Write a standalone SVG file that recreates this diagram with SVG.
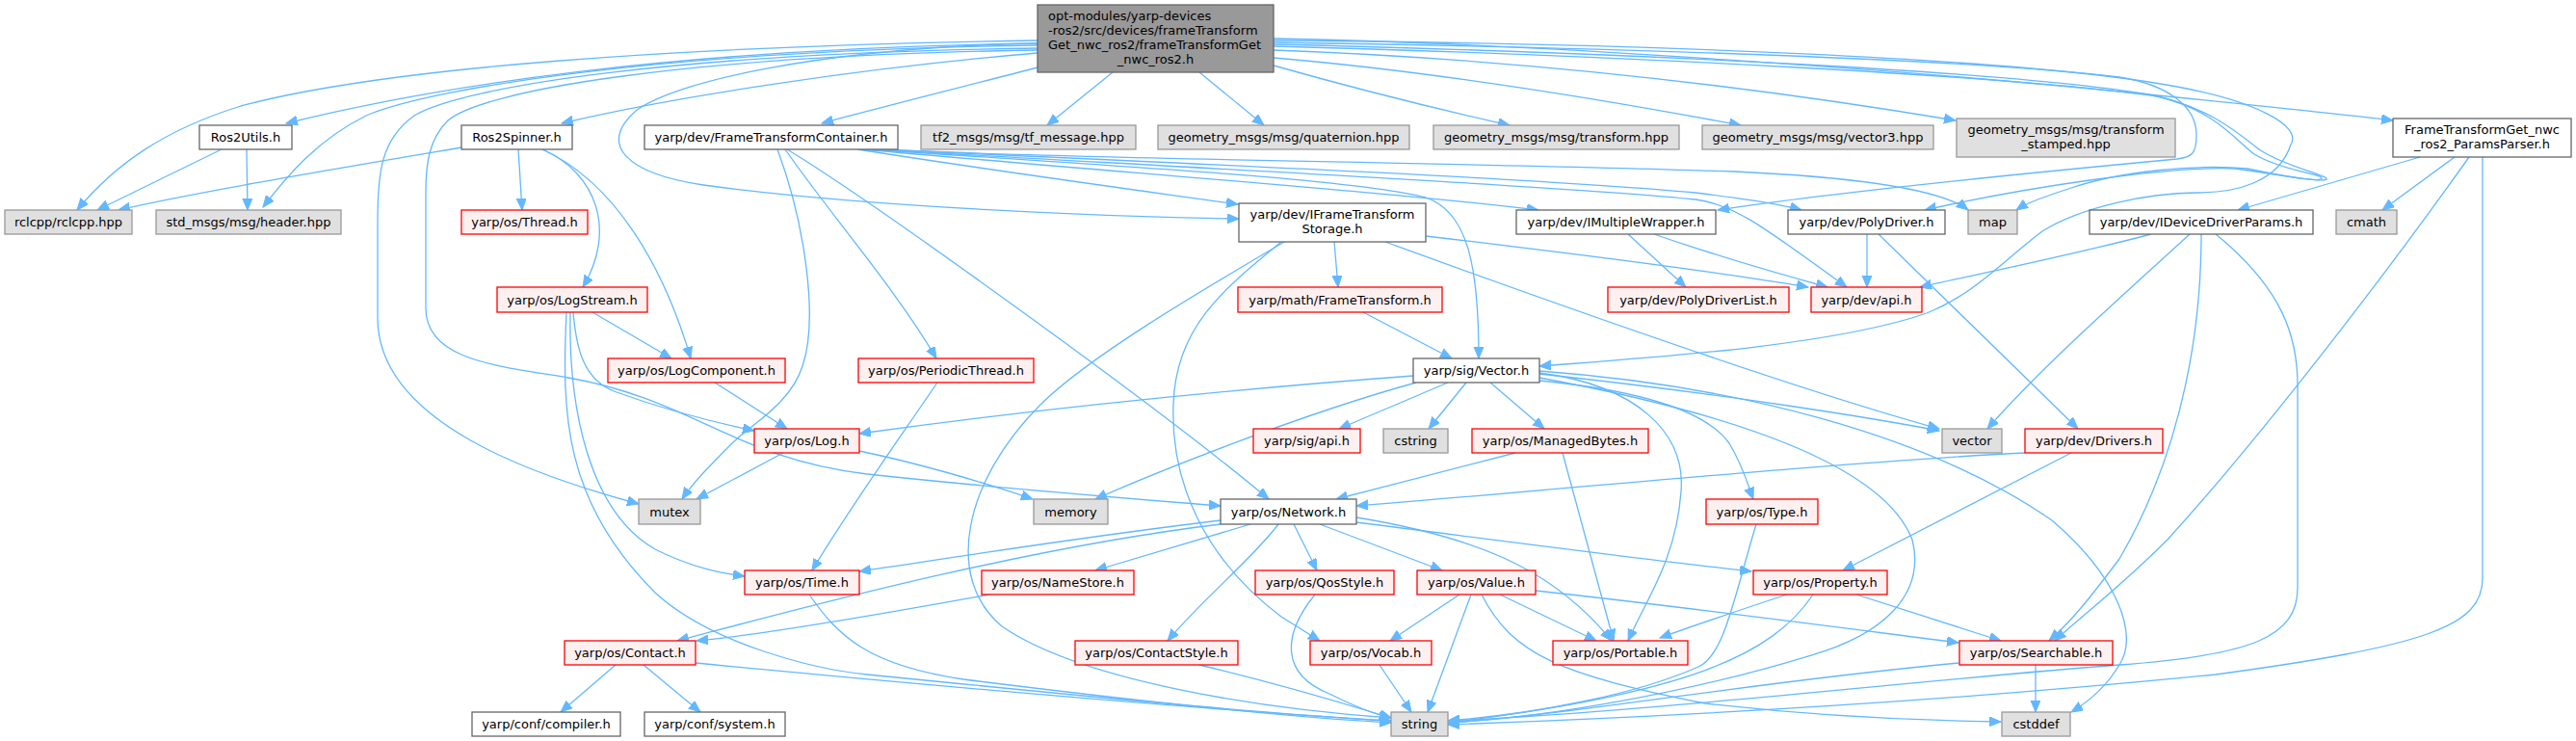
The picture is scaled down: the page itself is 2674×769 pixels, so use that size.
<svg xmlns="http://www.w3.org/2000/svg" width="2674" height="769" viewBox="0 0 2674 769">
<defs>
<marker id="a" markerUnits="userSpaceOnUse" markerWidth="13" markerHeight="11" refX="12" refY="5" orient="auto"><path d="M0,0 L12,5 L0,10 z" fill="#63b8ff" stroke="#63b8ff" stroke-width="1"/></marker>
<style>
.e{fill:none;stroke:#63b8ff;stroke-width:1.3;marker-end:url(#a)}
.w{fill:#ffffff;stroke:#666666;stroke-width:1.3}
.g{fill:#e0e0e0;stroke:#999999;stroke-width:1.3}
.r{fill:#fff0f0;stroke:#ff0000;stroke-width:1.3}
.m{fill:#999999;stroke:#666666;stroke-width:1.3}
text{font-family:"DejaVu Sans","Liberation Sans",sans-serif;font-size:13px;fill:#000000}
.c{text-anchor:middle}
</style>
</defs>
<rect width="2674" height="769" fill="#ffffff"/>
<g id="edges">
<path class="e" d="M1077,42 C700,48 400,70 250,110 C170,135 120,170 80,218"/>
<path class="e" d="M1077,45 C700,50 450,90 297,128"/>
<path class="e" d="M1077,47 C700,52 450,90 380,120 C330,145 300,180 273,215"/>
<path class="e" d="M1077,50 C700,55 480,90 430,120 C395,145 392,180 392,230 L392,330 C392,440 560,495 663,523"/>
<path class="e" d="M1077,52 C700,58 500,95 465,125 C445,145 442,170 442,200 L442,320 C442,375 520,380 590,392 C720,415 760,475 900,492 C1050,508 1180,518 1267,525"/>
<path class="e" d="M1077,55 C900,70 700,100 583,128"/>
<path class="e" d="M1077,45 C850,50 700,85 660,115 C620,150 650,180 730,192 C900,215 1150,225 1286,227"/>
<path class="e" d="M1077,70 C1000,90 900,115 853,128"/>
<path class="e" d="M1155,75 L1087,130"/>
<path class="e" d="M1245,75 L1312,130"/>
<path class="e" d="M1322,68 C1400,90 1500,115 1567,130"/>
<path class="e" d="M1322,60 C1500,75 1700,110 1807,130"/>
<path class="e" d="M1322,52 C1600,62 1850,95 2030,125"/>
<path class="e" d="M1322,40 C1600,45 2000,75 2200,95 C2300,105 2400,115 2484,125"/>
<path class="e" d="M1322,42 C1700,45 2100,60 2260,90 C2340,105 2390,130 2378,150 C2365,190 2320,200 2280,200 C2230,200 2160,215 2120,240 C2080,270 2050,305 2000,325 C1900,360 1700,372 1598,380"/>
<path class="e" d="M1322,44 C1700,50 2050,62 2200,80 C2250,88 2280,110 2280,140 C2280,160 2275,163 2260,165 C2100,180 1900,200 1783,218"/>
<path class="e" d="M1322,46 C1700,55 2100,75 2230,98 C2290,110 2320,135 2345,155 C2370,172 2410,180 2415,185 C2418,190 2380,185 2333,175 C2280,170 2200,178 2150,195 C2120,205 2105,210 2093,218"/>
<path class="e" d="M1322,48 C1700,58 2100,80 2240,100 C2300,115 2320,145 2340,160 C2370,178 2410,180 2410,185 C2410,190 2370,182 2320,175 C2250,172 2100,195 1998,218"/>
<path class="e" d="M230,155 L101,218"/>
<path class="e" d="M256,155 L257,218"/>
<path class="e" d="M479,153 C350,175 200,200 123,218"/>
<path class="e" d="M538,155 L542,218"/>
<path class="e" d="M563,155 C620,180 640,240 605,298"/>
<path class="e" d="M563,155 C640,190 690,280 717,372"/>
<path class="e" d="M615,324 L697,372"/>
<path class="e" d="M595,324 C598,360 605,395 640,407 C690,425 740,438 783,447"/>
<path class="e" d="M592,324 C590,420 610,530 680,570 C720,590 750,595 773,598"/>
<path class="e" d="M588,324 C583,430 585,520 680,615 C740,670 850,695 900,700 C1100,720 1300,740 1444,748"/>
<path class="e" d="M742,397 L817,445"/>
<path class="e" d="M807,155 C835,230 850,330 833,380 C820,420 780,440 760,460 C740,480 720,500 708,518"/>
<path class="e" d="M815,155 C860,220 930,300 972,372"/>
<path class="e" d="M817,155 C900,205 1200,420 1317,518"/>
<path class="e" d="M890,155 C1050,180 1200,200 1285,212"/>
<path class="e" d="M900,155 C1150,172 1400,185 1480,205 C1525,220 1535,280 1535,372"/>
<path class="e" d="M895,155 C1200,182 1450,200 1597,218"/>
<path class="e" d="M905,155 C1200,172 1650,195 1760,207 C1800,212 1830,235 1917,298"/>
<path class="e" d="M910,155 C1200,168 1600,185 1760,200 C1800,205 1840,210 1870,218"/>
<path class="e" d="M915,155 C1100,165 1500,168 1800,178 C1950,185 2020,200 2043,218"/>
<path class="e" d="M1385,251 L1389,298"/>
<path class="e" d="M1480,245 C1650,265 1800,285 1877,298"/>
<path class="e" d="M1438,251 C1600,310 1850,400 2013,445"/>
<path class="e" d="M1330,251 C1270,300 1220,340 1218,420 C1215,500 1250,580 1330,640 L1370,665"/>
<path class="e" d="M1335,250 C1250,300 1130,370 1080,420 C1000,500 980,600 1040,650 C1120,705 1300,735 1444,745"/>
<path class="e" d="M1690,243 L1750,298"/>
<path class="e" d="M1717,243 C1780,265 1850,285 1897,298"/>
<path class="e" d="M1938,243 L1938,298"/>
<path class="e" d="M1950,243 L2157,445"/>
<path class="e" d="M2233,243 C2150,265 2050,285 1993,298"/>
<path class="e" d="M2273,243 C2200,310 2120,380 2063,445"/>
<path class="e" d="M2285,243 C2285,330 2270,460 2200,580 C2170,620 2150,645 2127,665"/>
<path class="e" d="M2300,243 C2370,300 2385,350 2385,400 L2385,610 C2385,660 2340,680 2200,690 C2000,705 1700,740 1503,748"/>
<path class="e" d="M2512,163 L2323,218"/>
<path class="e" d="M2548,163 L2473,218"/>
<path class="e" d="M2563,163 C2480,280 2350,450 2250,560 C2200,610 2160,640 2133,665"/>
<path class="e" d="M2577,163 L2577,600 C2577,650 2520,670 2300,700 C2000,730 1700,745 1503,752"/>
<path class="e" d="M2102,470 C1900,480 1600,510 1408,525"/>
<path class="e" d="M2150,470 L1913,592"/>
<path class="e" d="M1467,390 C1200,410 1000,435 892,450"/>
<path class="e" d="M1470,397 C1350,430 1200,490 1137,518"/>
<path class="e" d="M1503,397 L1390,445"/>
<path class="e" d="M1522,397 L1483,445"/>
<path class="e" d="M1547,397 L1603,445"/>
<path class="e" d="M1598,395 C1700,405 1770,425 1795,460 C1810,485 1815,505 1820,518"/>
<path class="e" d="M1598,387 C1700,400 1750,450 1745,510 C1740,580 1710,620 1690,665"/>
<path class="e" d="M1598,388 C1800,410 1950,435 2013,447"/>
<path class="e" d="M1598,385 C1800,400 2000,450 2130,540 C2200,600 2220,660 2200,690 C2185,715 2165,730 2150,739"/>
<path class="e" d="M1598,392 C1750,420 1950,470 1985,560 C2000,620 1950,660 1880,680 C1750,720 1600,745 1503,750"/>
<path class="e" d="M1573,470 L1387,518"/>
<path class="e" d="M1622,470 L1675,665"/>
<path class="e" d="M1267,540 C1100,560 950,585 892,593"/>
<path class="e" d="M1267,544 C1050,570 800,640 703,665"/>
<path class="e" d="M1298,544 L1137,592"/>
<path class="e" d="M1327,544 C1300,580 1250,620 1212,665"/>
<path class="e" d="M1343,544 L1367,592"/>
<path class="e" d="M1370,544 L1497,592"/>
<path class="e" d="M1408,537 C1550,560 1620,600 1673,665"/>
<path class="e" d="M1408,542 C1550,560 1700,580 1818,593"/>
<path class="e" d="M1515,617 L1443,665"/>
<path class="e" d="M1527,617 L1482,739"/>
<path class="e" d="M1557,617 L1657,665"/>
<path class="e" d="M1594,613 C1750,630 1900,650 2033,667"/>
<path class="e" d="M1538,617 C1570,680 1620,700 1770,730 C1900,745 2000,748 2077,749"/>
<path class="e" d="M1855,617 C1800,635 1770,645 1723,662"/>
<path class="e" d="M1927,617 L2077,665"/>
<path class="e" d="M1882,617 C1840,680 1750,720 1503,750"/>
<path class="e" d="M1823,544 C1800,620 1790,680 1763,692 C1700,720 1600,740 1503,748"/>
<path class="e" d="M2113,690 L2113,739"/>
<path class="e" d="M2033,688 C1800,710 1650,740 1503,750"/>
<path class="e" d="M1365,617 C1330,660 1330,700 1380,720 C1410,735 1430,742 1444,745"/>
<path class="e" d="M1432,690 L1465,739"/>
<path class="e" d="M1245,690 C1350,715 1410,735 1444,745"/>
<path class="e" d="M1027,617 C900,640 780,660 723,665"/>
<path class="e" d="M639,690 L582,739"/>
<path class="e" d="M668,690 L727,739"/>
<path class="e" d="M722,688 C1000,715 1300,740 1444,748"/>
<path class="e" d="M840,617 C870,660 900,690 1000,705 C1200,730 1350,745 1444,750"/>
<path class="e" d="M973,397 C930,460 880,530 843,592"/>
<path class="e" d="M1415,324 L1507,372"/>
<path class="e" d="M813,470 L723,518"/>
<path class="e" d="M892,468 C950,480 1020,500 1072,518"/>
</g>
<g id="n_main"><rect class="m" x="1077" y="5" width="245" height="70"/><text x="1088" y="21">opt-modules/yarp-devices</text><text x="1088" y="36">-ros2/src/devices/frameTransform</text><text x="1088" y="51">Get_nwc_ros2/frameTransformGet</text><text class="c" x="1199.5" y="66">_nwc_ros2.h</text></g>
<g id="n_ros2utils"><rect class="w" x="207" y="130" width="96" height="25"/><text class="c" x="255" y="147">Ros2Utils.h</text></g>
<g id="n_rclcpp"><rect class="g" x="5" y="218" width="132" height="25"/><text class="c" x="71" y="235">rclcpp/rclcpp.hpp</text></g>
<g id="n_stdmsgs"><rect class="g" x="162" y="218" width="192" height="25"/><text class="c" x="258" y="235">std_msgs/msg/header.hpp</text></g>
<g id="n_ros2spinner"><rect class="w" x="479" y="130" width="115" height="25"/><text class="c" x="536.5" y="147">Ros2Spinner.h</text></g>
<g id="n_ftc"><rect class="w" x="669" y="130" width="263" height="25"/><text class="c" x="800.5" y="147">yarp/dev/FrameTransformContainer.h</text></g>
<g id="n_tf2"><rect class="g" x="956" y="130" width="223" height="25"/><text class="c" x="1067.5" y="147">tf2_msgs/msg/tf_message.hpp</text></g>
<g id="n_quat"><rect class="g" x="1202" y="130" width="261" height="25"/><text class="c" x="1332.5" y="147">geometry_msgs/msg/quaternion.hpp</text></g>
<g id="n_transform"><rect class="g" x="1488" y="130" width="255" height="25"/><text class="c" x="1615.5" y="147">geometry_msgs/msg/transform.hpp</text></g>
<g id="n_vector3"><rect class="g" x="1767" y="130" width="240" height="25"/><text class="c" x="1887" y="147">geometry_msgs/msg/vector3.hpp</text></g>
<g id="n_tstamped"><rect class="g" x="2031" y="123" width="227" height="40"/><text class="c" x="2144.5" y="139">geometry_msgs/msg/transform</text><text class="c" x="2144.5" y="154">_stamped.hpp</text></g>
<g id="n_params"><rect class="w" x="2484" y="123" width="185" height="40"/><text class="c" x="2576.5" y="139">FrameTransformGet_nwc</text><text class="c" x="2576.5" y="154">_ros2_ParamsParser.h</text></g>
<g id="n_thread"><rect class="r" x="479" y="218" width="131" height="25"/><text class="c" x="544.5" y="235">yarp/os/Thread.h</text></g>
<g id="n_ifts"><rect class="w" x="1286" y="211" width="194" height="40"/><text class="c" x="1383" y="227">yarp/dev/IFrameTransform</text><text class="c" x="1383" y="242">Storage.h</text></g>
<g id="n_imw"><rect class="w" x="1574" y="218" width="207" height="25"/><text class="c" x="1677.5" y="235">yarp/dev/IMultipleWrapper.h</text></g>
<g id="n_polydriver"><rect class="w" x="1856" y="218" width="163" height="25"/><text class="c" x="1937.5" y="235">yarp/dev/PolyDriver.h</text></g>
<g id="n_map"><rect class="g" x="2043" y="218" width="51" height="25"/><text class="c" x="2068.5" y="235">map</text></g>
<g id="n_iddp"><rect class="w" x="2169" y="218" width="232" height="25"/><text class="c" x="2285" y="235">yarp/dev/IDeviceDriverParams.h</text></g>
<g id="n_cmath"><rect class="g" x="2425" y="218" width="63" height="25"/><text class="c" x="2456.5" y="235">cmath</text></g>
<g id="n_logstream"><rect class="r" x="516" y="298" width="156" height="26"/><text class="c" x="594" y="315.5">yarp/os/LogStream.h</text></g>
<g id="n_frametransform"><rect class="r" x="1285" y="298" width="212" height="26"/><text class="c" x="1391" y="315.5">yarp/math/FrameTransform.h</text></g>
<g id="n_polydriverlist"><rect class="r" x="1669" y="298" width="188" height="26"/><text class="c" x="1763" y="315.5">yarp/dev/PolyDriverList.h</text></g>
<g id="n_devapi"><rect class="r" x="1880" y="298" width="115" height="26"/><text class="c" x="1937.5" y="315.5">yarp/dev/api.h</text></g>
<g id="n_logcomponent"><rect class="r" x="631" y="372" width="184" height="25"/><text class="c" x="723" y="389">yarp/os/LogComponent.h</text></g>
<g id="n_periodic"><rect class="r" x="891" y="372" width="182" height="25"/><text class="c" x="982" y="389">yarp/os/PeriodicThread.h</text></g>
<g id="n_sigvector"><rect class="w" x="1467" y="372" width="131" height="25"/><text class="c" x="1532.5" y="389">yarp/sig/Vector.h</text></g>
<g id="n_log"><rect class="r" x="783" y="445" width="109" height="25"/><text class="c" x="837.5" y="462">yarp/os/Log.h</text></g>
<g id="n_sigapi"><rect class="r" x="1301" y="445" width="111" height="25"/><text class="c" x="1356.5" y="462">yarp/sig/api.h</text></g>
<g id="n_cstring"><rect class="g" x="1436" y="445" width="67" height="25"/><text class="c" x="1469.5" y="462">cstring</text></g>
<g id="n_managed"><rect class="r" x="1528" y="445" width="183" height="25"/><text class="c" x="1619.5" y="462">yarp/os/ManagedBytes.h</text></g>
<g id="n_vector"><rect class="g" x="2016" y="445" width="62" height="25"/><text class="c" x="2047" y="462">vector</text></g>
<g id="n_drivers"><rect class="r" x="2102" y="445" width="143" height="25"/><text class="c" x="2173.5" y="462">yarp/dev/Drivers.h</text></g>
<g id="n_mutex"><rect class="g" x="663" y="518" width="64" height="26"/><text class="c" x="695" y="535.5">mutex</text></g>
<g id="n_memory"><rect class="g" x="1073" y="518" width="77" height="26"/><text class="c" x="1111.5" y="535.5">memory</text></g>
<g id="n_network"><rect class="w" x="1267" y="518" width="141" height="26"/><text class="c" x="1337.5" y="535.5">yarp/os/Network.h</text></g>
<g id="n_type"><rect class="r" x="1771" y="518" width="116" height="26"/><text class="c" x="1829" y="535.5">yarp/os/Type.h</text></g>
<g id="n_time"><rect class="r" x="773" y="592" width="119" height="25"/><text class="c" x="832.5" y="609">yarp/os/Time.h</text></g>
<g id="n_namestore"><rect class="r" x="1019" y="592" width="158" height="25"/><text class="c" x="1098" y="609">yarp/os/NameStore.h</text></g>
<g id="n_qos"><rect class="r" x="1303" y="592" width="144" height="25"/><text class="c" x="1375" y="609">yarp/os/QosStyle.h</text></g>
<g id="n_value"><rect class="r" x="1471" y="592" width="123" height="25"/><text class="c" x="1532.5" y="609">yarp/os/Value.h</text></g>
<g id="n_property"><rect class="r" x="1820" y="592" width="139" height="25"/><text class="c" x="1889.5" y="609">yarp/os/Property.h</text></g>
<g id="n_contact"><rect class="r" x="586" y="665" width="136" height="25"/><text class="c" x="654" y="682">yarp/os/Contact.h</text></g>
<g id="n_contactstyle"><rect class="r" x="1116" y="665" width="169" height="25"/><text class="c" x="1200.5" y="682">yarp/os/ContactStyle.h</text></g>
<g id="n_vocab"><rect class="r" x="1360" y="665" width="126" height="25"/><text class="c" x="1423" y="682">yarp/os/Vocab.h</text></g>
<g id="n_portable"><rect class="r" x="1612" y="665" width="140" height="25"/><text class="c" x="1682" y="682">yarp/os/Portable.h</text></g>
<g id="n_searchable"><rect class="r" x="2034" y="665" width="159" height="25"/><text class="c" x="2113.5" y="682">yarp/os/Searchable.h</text></g>
<g id="n_compiler"><rect class="w" x="490" y="739" width="154" height="25"/><text class="c" x="567" y="756">yarp/conf/compiler.h</text></g>
<g id="n_system"><rect class="w" x="669" y="739" width="146" height="25"/><text class="c" x="742" y="756">yarp/conf/system.h</text></g>
<g id="n_string"><rect class="g" x="1444" y="739" width="59" height="25"/><text class="c" x="1473.5" y="756">string</text></g>
<g id="n_cstddef"><rect class="g" x="2078" y="739" width="71" height="25"/><text class="c" x="2113.5" y="756">cstddef</text></g>
</svg>
